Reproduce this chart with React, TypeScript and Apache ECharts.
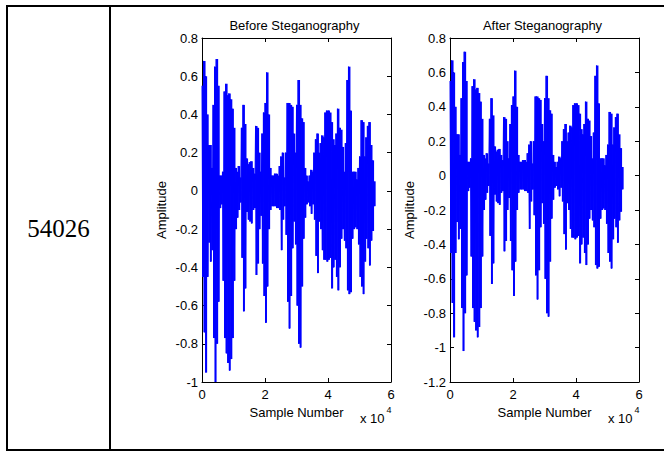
import React, { useEffect, useRef } from "react";
import * as echarts from "echarts";

// Envelope of the waveform, one reading every SAMPLE_STEP samples
const SAMPLE_STEP = 500;

const beforeUpper = [
  0.55, 0.68, 0.6, 0.4, 0.24, 0.24, 0.12, 0.45, 0.65, 0.69,
  0.55, 0.08, 0.08, 0.1, 0.52, 0.56, 0.5, 0.51, 0.48, 0.43,
  0.33, 0.12, 0.1, 0.13, 0.07, 0.33, 0.45, 0.35, 0.17, 0.14,
  0.15, 0.155, 0.12, 0.09, 0.34, 0.33, 0.2, 0.1, 0.3, 0.41,
  0.46, 0.62, 0.4, 0.12, 0.08, 0.08, 0.09, 0.09, 0.08, 0.13,
  0.18, 0.2, 0.07, 0.2, 0.46, 0.46, 0.45, 0.44, 0.3, 0.2,
  0.45, 0.58, 0.45, 0.38, 0.36, 0.12, 0.08, 0.05, 0.08, 0.11,
  0.1, 0.2, 0.27, 0.3, 0.2, 0.25, 0.29, 0.28, 0.41, 0.42,
  0.42, 0.41, 0.36, 0.27, 0.24, 0.3, 0.43, 0.33, 0.32, 0.23,
  0.1, 0.25, 0.58, 0.65, 0.42, 0.1, 0.1, 0.1, 0.06, 0.12,
  0.18, 0.37, 0.36, 0.18, 0.28, 0.34, 0.36, 0.24, 0.16, 0.05,
];

const beforeLower = [
  -0.45, -0.74, -0.95, -0.45, -0.27, -0.37, -0.31, -0.77, -1.0, -0.8,
  -0.58, -0.09, -0.07, -0.47, -0.77, -0.85, -0.9, -0.94, -0.88, -0.77,
  -0.47, -0.2, -0.14, -0.1, -0.06, -0.35, -0.63, -0.51, -0.11, -0.15,
  -0.16, -0.17, -0.1, -0.09, -0.44, -0.38, -0.2, -0.13, -0.38, -0.55,
  -0.69, -0.5, -0.2, -0.1, -0.08, -0.08, -0.08, -0.09, -0.09, -0.1,
  -0.31, -0.15, -0.08, -0.23, -0.58, -0.72, -0.55, -0.3, -0.16, -0.28,
  -0.6, -0.8, -0.82, -0.5, -0.25, -0.14, -0.07, -0.06, -0.08, -0.12,
  -0.07, -0.15, -0.34, -0.43, -0.16, -0.2, -0.31, -0.36, -0.36, -0.37,
  -0.36, -0.35, -0.51, -0.4, -0.36, -0.45, -0.52, -0.4, -0.25, -0.2,
  -0.26, -0.3, -0.52, -0.54, -0.53, -0.25, -0.2, -0.19, -0.2, -0.28,
  -0.45, -0.5, -0.54, -0.37, -0.25, -0.3, -0.39, -0.26, -0.21, -0.08,
];

const afterUpper = [
  0.55, 0.67, 0.6, 0.4, 0.24, 0.24, 0.12, 0.45, 0.66, 0.72,
  0.55, 0.08, 0.08, 0.1, 0.52, 0.56, 0.5, 0.51, 0.48, 0.43,
  0.33, 0.12, 0.1, 0.13, 0.07, 0.33, 0.45, 0.35, 0.17, 0.14,
  0.15, 0.155, 0.12, 0.09, 0.34, 0.33, 0.2, 0.1, 0.3, 0.41,
  0.46, 0.61, 0.4, 0.12, 0.08, 0.08, 0.09, 0.09, 0.08, 0.13,
  0.18, 0.2, 0.07, 0.2, 0.46, 0.46, 0.45, 0.44, 0.3, 0.2,
  0.45, 0.58, 0.45, 0.38, 0.36, 0.12, 0.08, 0.05, 0.08, 0.11,
  0.1, 0.2, 0.27, 0.3, 0.2, 0.25, 0.29, 0.28, 0.41, 0.42,
  0.42, 0.41, 0.36, 0.27, 0.24, 0.3, 0.43, 0.33, 0.32, 0.23,
  0.1, 0.25, 0.58, 0.64, 0.42, 0.1, 0.1, 0.1, 0.06, 0.12,
  0.18, 0.37, 0.36, 0.18, 0.28, 0.34, 0.36, 0.24, 0.16, 0.05,
];

const afterLower = [
  -0.45, -0.74, -0.94, -0.45, -0.27, -0.37, -0.31, -0.77, -1.02, -0.8,
  -0.58, -0.09, -0.07, -0.47, -0.77, -0.85, -0.9, -0.94, -0.88, -0.77,
  -0.47, -0.2, -0.14, -0.1, -0.06, -0.35, -0.63, -0.51, -0.11, -0.15,
  -0.16, -0.17, -0.1, -0.09, -0.44, -0.38, -0.2, -0.13, -0.38, -0.55,
  -0.7, -0.5, -0.2, -0.1, -0.08, -0.08, -0.08, -0.09, -0.09, -0.1,
  -0.31, -0.15, -0.08, -0.23, -0.58, -0.72, -0.55, -0.3, -0.16, -0.28,
  -0.6, -0.8, -0.82, -0.5, -0.25, -0.14, -0.07, -0.06, -0.08, -0.12,
  -0.07, -0.15, -0.34, -0.43, -0.16, -0.2, -0.31, -0.36, -0.36, -0.37,
  -0.36, -0.35, -0.51, -0.4, -0.36, -0.45, -0.52, -0.4, -0.25, -0.2,
  -0.26, -0.3, -0.52, -0.54, -0.53, -0.25, -0.2, -0.19, -0.2, -0.28,
  -0.45, -0.5, -0.54, -0.37, -0.25, -0.3, -0.39, -0.26, -0.21, -0.08,
];

const titles = ["Before Steganography", "After Steganography"];
const rowLabel = "54026";
const xRange = { min: 0, max: 60000, interval: 20000 };
const yRanges = [
  { min: -1, max: 0.8, interval: 0.2 },
  { min: -1.2, max: 0.8, interval: 0.2 },
];

const FONT = "'Liberation Sans', Arial, Helvetica, sans-serif";
const BLUE = "#0000ff";

function toWave(upper: number[], lower: number[]) {
  const out: [number, number][] = [];
  for (let i = 0; i < upper.length; i++) {
    out.push([i * SAMPLE_STEP, upper[i]]);
    out.push([i * SAMPLE_STEP + SAMPLE_STEP / 2, lower[i]]);
  }
  return out;
}

function toBands(upper: number[], lower: number[]) {
  return upper.map((u, i) => [i * SAMPLE_STEP, lower[i], u]);
}

export default function App() {
  const ref = useRef<HTMLDivElement>(null);
  useEffect(() => {
    if (!ref.current) return;
    const chart = echarts.init(ref.current, undefined, { renderer: "svg" });

    const grids = [
      { left: 202, top: 38, width: 189, height: 344 },
      { left: 450, top: 38, width: 189, height: 344 },
    ];
    const axisLine = { onZero: false, lineStyle: { color: "#000", width: 1 } };
    const axisTick = { inside: true, length: 4, lineStyle: { color: "#000" } };
    const labelStyle = { color: "#000", fontSize: 13, fontFamily: FONT };

    const xAxis: any[] = [];
    const yAxis: any[] = [];
    grids.forEach((_, g) => {
      xAxis.push({
        gridIndex: g, type: "value", position: "bottom", ...xRange,
        axisLine, axisTick, splitLine: { show: false },
        axisLabel: { ...labelStyle, margin: 6, formatter: (v: number) => String(v / 10000) },
        name: "Sample Number", nameLocation: "middle", nameGap: 22,
        nameTextStyle: { ...labelStyle },
      });
      xAxis.push({
        gridIndex: g, type: "value", position: "top", ...xRange,
        axisLine, axisTick, splitLine: { show: false }, axisLabel: { show: false },
      });
      yAxis.push({
        gridIndex: g, type: "value", position: "left", ...yRanges[g],
        axisLine, axisTick, splitLine: { show: false },
        axisLabel: { ...labelStyle, margin: 4 },
        name: "Amplitude", nameLocation: "middle", nameGap: 34,
        nameTextStyle: { ...labelStyle },
      });
      yAxis.push({
        gridIndex: g, type: "value", position: "right", ...yRanges[g],
        axisLine, axisTick, splitLine: { show: false }, axisLabel: { show: false },
      });
    });

    const sets = [
      [beforeUpper, beforeLower],
      [afterUpper, afterLower],
    ];
    const series: any[] = [];
    sets.forEach(([up, lo], g) => {
      series.push({
        type: "custom",
        xAxisIndex: g * 2,
        yAxisIndex: g * 2,
        data: toBands(up, lo),
        encode: { x: 0, y: [1, 2] },
        clip: true,
        renderItem: (_p: any, api: any) => {
          const x0 = api.value(0);
          const a = api.coord([x0, api.value(2)]);
          const b = api.coord([x0 + SAMPLE_STEP, api.value(1)]);
          return {
            type: "rect",
            shape: { x: a[0], y: a[1], width: b[0] - a[0] + 0.4, height: b[1] - a[1] },
            style: { fill: BLUE },
          };
        },
      });
      series.push({
        type: "line",
        xAxisIndex: g * 2,
        yAxisIndex: g * 2,
        data: toWave(up, lo),
        showSymbol: false,
        symbol: "none",
        clip: true,
        lineStyle: { color: BLUE, width: 1 },
        itemStyle: { color: BLUE },
      });
    });

    const black = { fill: "#000" };
    const graphic: any[] = [
      { type: "rect", shape: { x: 6, y: 5, width: 658, height: 2 }, style: black },
      { type: "rect", shape: { x: 6, y: 5, width: 2, height: 446 }, style: black },
      { type: "rect", shape: { x: 109, y: 5, width: 2, height: 446 }, style: black },
      { type: "rect", shape: { x: 6, y: 449, width: 658, height: 2 }, style: black },
      {
        type: "text", x: 58.5, y: 228,
        style: { text: rowLabel, fill: "#000", font: "25px 'Liberation Serif', 'Times New Roman', serif", textAlign: "center", textVerticalAlign: "middle" },
      },
    ];
    grids.forEach((gr, g) => {
      graphic.push({
        type: "text", x: gr.left + gr.width / 2 - 2, y: 25,
        style: { text: titles[g], fill: "#000", font: `13px ${FONT}`, textAlign: "center", textVerticalAlign: "middle" },
      });
      const ex = gr.left + gr.width - 31;
      graphic.push({
        type: "text", x: ex, y: 418,
        style: { text: "x 10", fill: "#000", font: `13px ${FONT}`, textAlign: "left", textVerticalAlign: "middle" },
      });
      graphic.push({
        type: "text", x: ex + 26.5, y: 409.5,
        style: { text: "4", fill: "#000", font: `9px ${FONT}`, textAlign: "left", textVerticalAlign: "middle" },
      });
    });

    chart.setOption({
      animation: false,
      backgroundColor: "#fff",
      grid: grids,
      xAxis,
      yAxis,
      series,
      graphic,
    });
    return () => chart.dispose();
  }, []);
  return (
    <div
      ref={ref}
      style={{ position: "absolute", left: 0, top: 0, width: 664, height: 452 }}
    />
  );
}
